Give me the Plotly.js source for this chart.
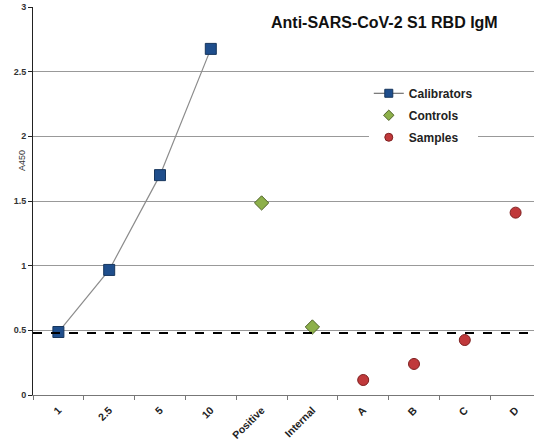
<!DOCTYPE html>
<html><head><meta charset="utf-8">
<script src="https://cdn.plot.ly/plotly-3.0.1.min.js"></script>
<style>html,body{margin:0;padding:0;overflow:hidden;background:#fff;width:534px;height:440px}</style>
</head><body><div id="chart"></div>
<script>
var categories = ["1","2.5","5","10","Positive","Internal","A","B","C","D"];
var calibratorLabels = ["1","2.5","5","10"];
var calibratorValues = [0.487, 0.967, 1.70, 2.676];
var controlLabels = ["Positive","Internal"];
var controlValues = [1.485, 0.526];
var sampleLabels = ["A","B","C","D"];
var sampleValues = [0.116, 0.24, 0.425, 1.41];
var cutoff = 0.48;
var seriesNames = ["Calibrators","Controls","Samples"];

var font = "Liberation Sans, Arial, sans-serif";
var calMarker = {symbol: "square", color: "#1f4e8c", line: {color: "#17365d", width: 1}};
var ctlMarker = {symbol: "diamond", color: "#8db04a", line: {color: "#4f6228", width: 1}};
var smpMarker = {symbol: "circle", color: "#c0393b", line: {color: "#7f2020", width: 1}};
function withSize(m, s){ return Object.assign({}, m, {size: s}); }

var traces = [
  {x: calibratorLabels, y: calibratorValues, name: seriesNames[0], mode: "lines+markers", showlegend: false,
   line: {color: "#8c8c8c", width: 1.2}, marker: withSize(calMarker, 11)},
  {x: controlLabels, y: controlValues, name: seriesNames[1], mode: "markers", showlegend: false,
   marker: withSize(ctlMarker, 11)},
  {x: sampleLabels, y: sampleValues, name: seriesNames[2], mode: "markers", showlegend: false,
   marker: withSize(smpMarker, 11)},
  {x: [null], y: [null], name: seriesNames[0], mode: "lines+markers", legendgroup: "a",
   line: {color: "#555", width: 1}, marker: withSize(calMarker, 8)},
  {x: [null], y: [null], name: seriesNames[1], mode: "markers", legendgroup: "b",
   marker: withSize(ctlMarker, 8)},
  {x: [null], y: [null], name: seriesNames[2], mode: "markers", legendgroup: "c",
   marker: withSize(smpMarker, 8)}
];
var layout = {
  width: 541, height: 440,
  margin: {l: 33, r: 0, t: 7, b: 45},
  paper_bgcolor: "#fff", plot_bgcolor: "#fff",
  font: {family: font, color: "#222"},
  showlegend: true,
  legend: {x: 0.661, y: 0.815, xanchor: "left", yanchor: "top", bgcolor: "#fff",
    font: {family: font, size: 12, weight: "bold", color: "#222"}, tracegroupgap: 3},
  xaxis: {type: "category", categoryorder: "array", categoryarray: categories, range: [-0.5, 9.5],
    showgrid: false, showline: true, linecolor: "#777", linewidth: 1,
    ticks: "outside", tickson: "boundaries", ticklen: 4, tickcolor: "#777", ticklabelstandoff: 4,
    tickangle: -45, tickfont: {family: font, size: 10.5, weight: "bold", color: "#222"}},
  yaxis: {range: [0, 3], dtick: 0.5, showgrid: true, gridcolor: "#999", gridwidth: 1, zeroline: false,
    showline: true, linecolor: "#222", linewidth: 1, ticks: "outside", ticklen: 4, tickcolor: "#222",
    tickfont: {family: font, size: 9, weight: "bold", color: "#333"}},
  shapes: [{type: "line", xref: "paper", yref: "y", x0: 0, x1: 1, y0: cutoff, y1: cutoff,
    line: {color: "#000", width: 2, dash: "dash"}}],
  annotations: [
    {text: "Anti-SARS-CoV-2 S1 RBD IgM", xref: "paper", yref: "paper", x: 0.691, y: 0.961, xanchor: "center", yanchor: "middle",
     showarrow: false, font: {family: font, size: 16, weight: "bold", color: "#111"}},
    {text: "A450", xref: "paper", yref: "paper", x: -0.022, y: 0.605, xanchor: "center", yanchor: "middle", textangle: -90, showarrow: false,
     font: {family: font, size: 9, color: "#333"}}
  ]
};
Plotly.newPlot("chart", traces, layout, {displayModeBar: false, staticPlot: true});
</script></body></html>
